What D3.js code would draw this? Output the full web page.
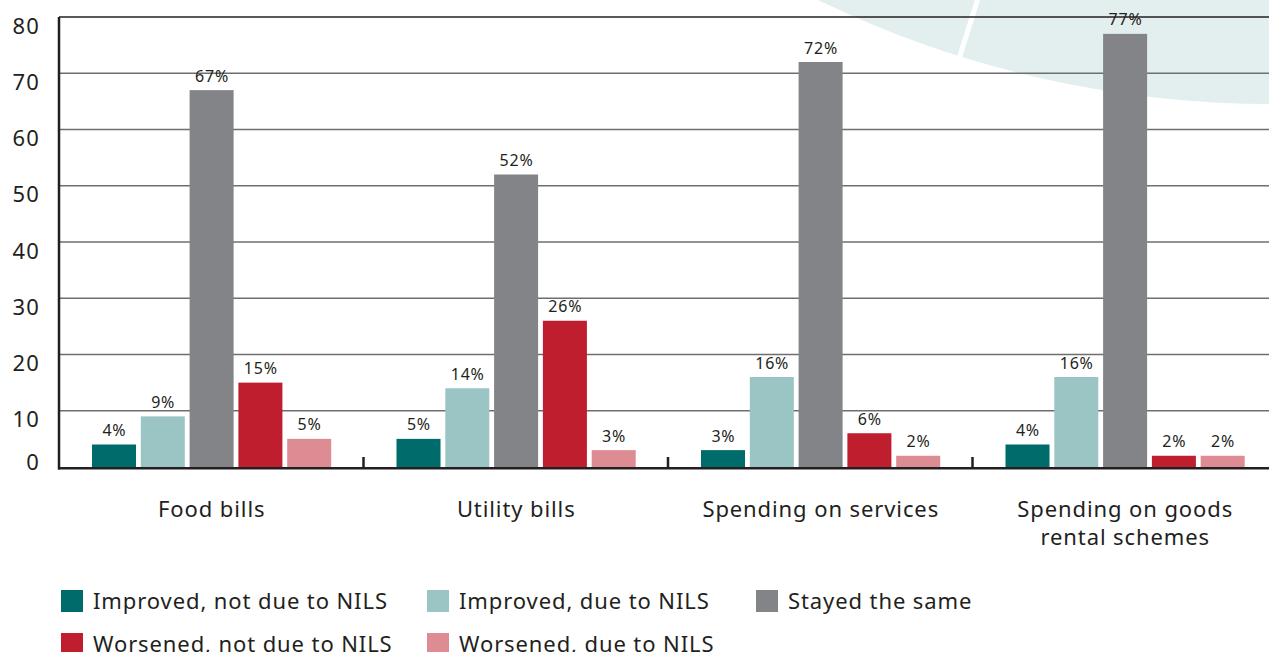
<!DOCTYPE html>
<html>
<head>
<meta charset="utf-8">
<script src="https://cdn.jsdelivr.net/npm/d3@7"></script>
<style>
  html, body { margin: 0; padding: 0; background: #fff; }
  svg { display: block; }
  text { font-family: "Noto Sans", sans-serif; fill: #231f20; }
</style>
</head>
<body>
<svg id="chart" width="1269" height="652"></svg>
<script>
const categories = ["Food bills", "Utility bills", "Spending on services", "Spending on goods rental schemes"];
const categoryLines = [["Food bills"], ["Utility bills"], ["Spending on services"], ["Spending on goods", "rental schemes"]];
const seriesNames = ["Improved, not due to NILS", "Improved, due to NILS", "Stayed the same", "Worsened, not due to NILS", "Worsened, due to NILS"];
const improvedNotNILS = [4, 5, 3, 4];
const improvedNILS = [9, 14, 16, 16];
const stayedSame = [67, 52, 72, 77];
const worsenedNotNILS = [15, 26, 6, 2];
const worsenedNILS = [5, 3, 2, 2];
const yTicks = [0, 10, 20, 30, 40, 50, 60, 70, 80];
const colors = ["#006b6b", "#9bc5c5", "#838487", "#be1e2d", "#de8c93"];

const seriesValues = [improvedNotNILS, improvedNILS, stayedSame, worsenedNotNILS, worsenedNILS];

const svg = d3.select("#chart");

// decorative background circle
const bgCx = 1271, bgCy = -935, bgR = 1039;
svg.append("circle").attr("cx", bgCx).attr("cy", bgCy).attr("r", bgR).attr("fill", "#e3efef");
svg.append("line").attr("x1", bgCx).attr("y1", bgCy)
  .attr("x2", bgCx + (958 - bgCx) * 1.2).attr("y2", bgCy + (62 - bgCy) * 1.2)
  .attr("stroke", "#fff").attr("stroke-width", 5);

const y = d3.scaleLinear().domain([0, 80]).range([467, 17]);
const x0 = d3.scaleBand().domain(categories).range([59, 1277]).paddingInner(0).paddingOuter(0);
const x1 = d3.scaleBand().domain(d3.range(5)).range([33, 272.2]).paddingInner(0.098).paddingOuter(0);

// grid lines
svg.append("g").selectAll("line").data(yTicks.filter(d => d > 0)).join("line")
  .attr("x1", 59).attr("x2", 1269)
  .attr("y1", d => y(d)).attr("y2", d => y(d))
  .attr("stroke", d => d === 80 ? "#231f20" : "#6d6e70").attr("stroke-width", 1.6);

// y axis labels
const yAxis = d3.axisLeft(y).tickValues(yTicks).tickSize(0).tickPadding(0);
const gy = svg.append("g").attr("transform", "translate(40,0)").call(yAxis);
gy.select(".domain").remove();
gy.selectAll("text")
  .attr("font-family", "Noto Sans, sans-serif")
  .attr("font-size", 22).attr("fill", "#231f20")
  .attr("letter-spacing", 1.2)
  .attr("dy", d => d === 0 ? "2px" : "16px");

// bars
const groups = svg.append("g").selectAll("g").data(categories).join("g")
  .attr("transform", d => `translate(${x0(d)},0)`);

groups.each(function(cat, ci) {
  const g = d3.select(this);
  const vals = seriesValues.map((s, si) => ({ si, v: s[ci] }));
  g.selectAll("rect").data(vals).join("rect")
    .attr("x", d => x1(d.si)).attr("width", x1.bandwidth())
    .attr("y", d => y(d.v)).attr("height", d => y(0) - y(d.v))
    .attr("fill", d => colors[d.si]);
  g.selectAll("text.val").data(vals).join("text").attr("class", "val")
    .attr("x", d => x1(d.si) + x1.bandwidth() / 2 + 0.4)
    .attr("y", d => y(d.v) - 8.5)
    .attr("text-anchor", "middle").attr("font-size", 16).attr("letter-spacing", 0.8)
    .text(d => d.v + "%");
});

// axes lines
svg.append("line").attr("x1", 59).attr("x2", 59).attr("y1", 17).attr("y2", 469.5)
  .attr("stroke", "#231f20").attr("stroke-width", 2.5);
svg.append("line").attr("x1", 58).attr("x2", 1269).attr("y1", 468.2).attr("y2", 468.2)
  .attr("stroke", "#231f20").attr("stroke-width", 2.5);
svg.append("g").selectAll("line").data(categories.slice(1)).join("line")
  .attr("x1", d => x0(d)).attr("x2", d => x0(d))
  .attr("y1", 457).attr("y2", 468)
  .attr("stroke", "#231f20").attr("stroke-width", 2.5);

// category labels
groups.each(function(cat, ci) {
  const t = d3.select(this).append("text")
    .attr("x", x0.bandwidth() / 2).attr("y", 517)
    .attr("text-anchor", "middle").attr("font-size", 22).attr("letter-spacing", 0.9);
  categoryLines[ci].forEach((ln, li) => {
    t.append("tspan").attr("x", x0.bandwidth() / 2 + 0.5).attr("dy", li === 0 ? 0 : 27.5).text(ln);
  });
});

// legend
const legendPos = [[61, 590], [427, 590], [756, 590], [61, 633], [427, 633]];
const lg = svg.append("g").selectAll("g").data(seriesNames).join("g")
  .attr("transform", (d, i) => `translate(${legendPos[i][0]},${legendPos[i][1]})`);
lg.append("rect").attr("width", 22).attr("height", 22).attr("fill", (d, i) => colors[i]);
lg.append("text").attr("x", 32).attr("y", 19.3).attr("font-size", 22).attr("letter-spacing", 0.9).text(d => d);
</script>
</body>
</html>
